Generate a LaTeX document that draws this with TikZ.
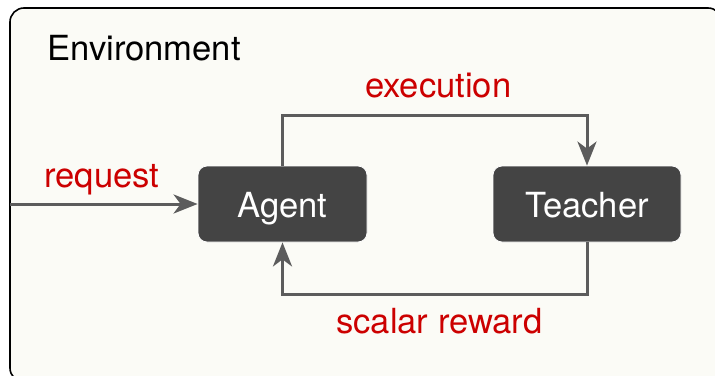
\documentclass[tikz,border=0pt]{standalone}
\usepackage{fontspec}
\setmainfont{TeX Gyre Heros}
\usetikzlibrary{arrows.meta}
\definecolor{envfill}{HTML}{FBFBF6}
\definecolor{boxfill}{HTML}{444444}
\definecolor{arrowgray}{HTML}{5C5C5C}
\definecolor{labelred}{HTML}{CC0000}
\tikzset{
  actor/.style={draw=white, line width=0.8pt, fill=boxfill, rounded corners=9pt, text=white,
    minimum height=76pt, inner sep=0pt, text height=26pt, text depth=0pt,
    font=\fontsize{34.6}{40}\selectfont},
  flow/.style={draw=arrowgray, line width=3pt, -{Stealth[length=24pt,width=19pt,inset=7pt]}},
  lbl/.style={text=labelred, font=\fontsize{34.6}{40}\selectfont, inner sep=0pt, anchor=base west},
}
\begin{document}
\begin{tikzpicture}[x=1pt,y=-1pt]
\useasboundingbox (0,0) rectangle (715,375);
\clip (0,0) rectangle (715,375);
\draw[line width=1.6pt, fill=envfill, rounded corners=14pt] (10,8) rectangle (722,382);
\node[inner sep=0pt, anchor=base west, font=\fontsize{34.6}{40}\selectfont] (env) at (47,60) {Environment};
\node[actor, minimum width=169pt] (agent) at (282.5,204) {Agent};
\node[actor, minimum width=188pt] (teacher) at (587,204) {Teacher};
\coordinate (src) at (10,204);
\draw[flow] (src) -- (agent.west);
\draw[flow] (agent.north) |- (435,115) -| (teacher.north);
\draw[flow] (teacher.south) |- (435,294) -| (agent.south);
\node[lbl] (lreq) at (44,187) {request};
\node[lbl] (lexe) at (365,97) {execution};
\node[lbl] (lrew) at (336,333) {scalar reward};
\end{tikzpicture}
\end{document}
